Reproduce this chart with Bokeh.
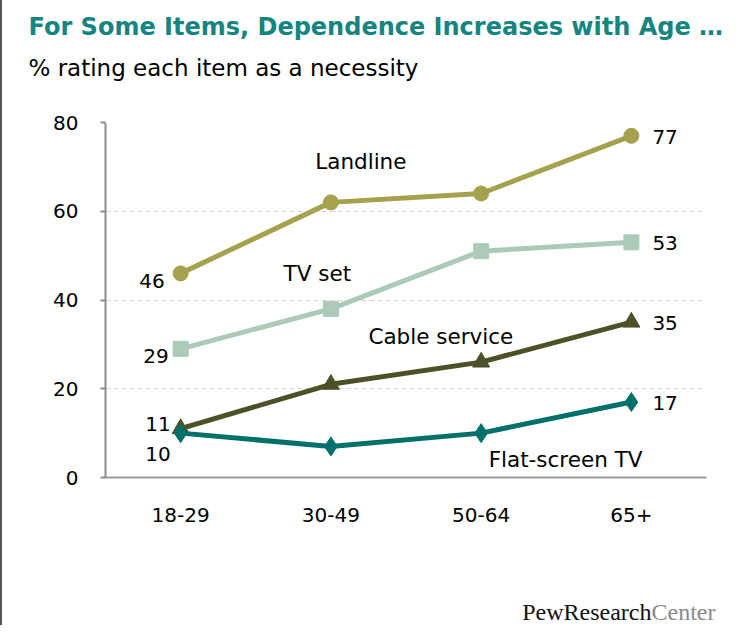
from bokeh.plotting import figure
from bokeh.models import ColumnDataSource, Label, Range1d, FactorRange
from bokeh.layouts import column
from bokeh.core.properties import value
from bokeh.embed import file_html
from bokeh.resources import INLINE

# ---- data ----
ages = ["18-29", "30-49", "50-64", "65+"]
landline = [46, 62, 64, 77]
tv_set = [29, 38, 51, 53]
cable = [11, 21, 26, 35]
flat_screen = [10, 7, 10, 17]
series_names = ["Landline", "TV set", "Cable service", "Flat-screen TV"]
y_ticks = [0, 20, 40, 60, 80]

title_text = "For Some Items, Dependence Increases with Age \u2026"
subtitle_text = "% rating each item as a necessity"
logo_main = "PewResearch"
logo_tail = "Center"

# ---- styles ----
FONT = "DejaVu Sans"
C_LAND = "#a6a14d"
C_TV = "#abcbb8"
C_CABLE = "#4e5128"
C_FLAT = "#00706b"
C_TITLE = "#14857f"
W = 736
H_HEAD = 112
H_MAIN = 425
H_FOOT = 88


def blank_fig(h):
    f = figure(x_range=Range1d(0, W), y_range=Range1d(h, 0), width=W, height=h,
               output_backend="svg", toolbar_location=None,
               min_border=0, x_axis_location=None, y_axis_location=None)
    f.outline_line_color = None
    f.grid.visible = False
    f.frame_align = False
    return f


# ---- header ----
head = blank_fig(H_HEAD)
head.text(x=[26], y=[26], text=[title_text], text_font=value(FONT),
          text_font_size="24px", text_font_style="bold", text_color=C_TITLE,
          text_align="left", text_baseline="alphabetic")
head.text(x=[26], y=[67], text=[subtitle_text], text_font=value(FONT),
          text_font_size="23px", text_color="black",
          text_align="left", text_baseline="alphabetic")

# ---- main chart ----
p = figure(
    x_range=FactorRange(factors=ages, range_padding=0),
    y_range=Range1d(0, 80),
    width=W, height=H_MAIN,
    output_backend="svg", toolbar_location=None,
    min_border_left=103, min_border_right=32,
    min_border_top=10, min_border_bottom=60,
    title=None,
)
p.frame_align = False
p.outline_line_color = None

p.yaxis.ticker = y_ticks
p.yaxis.axis_line_color = "#8c8c8c"
p.yaxis.axis_line_width = 2
p.yaxis.major_tick_line_color = "#8c8c8c"
p.yaxis.major_tick_line_width = 2
p.yaxis.major_tick_out = 5
p.yaxis.major_tick_in = 0
p.yaxis.minor_tick_line_color = None
p.yaxis.major_label_standoff = 22
p.yaxis.major_label_text_font = FONT
p.yaxis.major_label_text_font_size = "20px"
p.yaxis.major_label_text_color = "black"

p.xaxis.axis_line_color = "#9a9a9a"
p.xaxis.axis_line_width = 2
p.xaxis.major_tick_line_color = None
p.xaxis.minor_tick_line_color = None
p.xaxis.major_tick_out = 0
p.xaxis.major_tick_in = 0
p.xaxis.major_label_standoff = 30
p.xaxis.major_label_text_font = FONT
p.xaxis.major_label_text_font_size = "20px"
p.xaxis.major_label_text_color = "black"

p.xgrid.grid_line_color = None
p.ygrid.grid_line_color = "#d4d4d4"
p.ygrid.grid_line_dash = "5 3"
p.ygrid.grid_line_width = 1

series = [
    (landline, C_LAND, "circle", 15),
    (tv_set, C_TV, "square", 15),
    (cable, C_CABLE, "triangle", 17),
    (flat_screen, C_FLAT, "diamond", 19),
]
for vals, col, mk, sz in series:
    src = ColumnDataSource(dict(x=ages, y=vals))
    p.line("x", "y", source=src, line_color=col, line_width=5)
    p.scatter("x", "y", source=src, marker=mk, size=sz, fill_color=col, line_color=col)

left_vals = [landline[0], tv_set[0], cable[0], flat_screen[0]]
right_vals = [landline[-1], tv_set[-1], cable[-1], flat_screen[-1]]
left_src = ColumnDataSource(dict(
    x=[ages[0]] * 4, y=left_vals, t=[str(v) for v in left_vals],
    xo=[-16, -12, -10, -10], yo=[8, 7, -5, 21]))
right_src = ColumnDataSource(dict(
    x=[ages[-1]] * 4, y=right_vals, t=[str(v) for v in right_vals],
    xo=[21, 21, 21, 21], yo=[1, 1, 1, 1]))
p.text("x", "y", text="t", source=left_src, x_offset="xo", y_offset="yo",
       text_align="right", text_baseline="middle", text_font=value(FONT),
       text_font_size="20px", text_color="black")
p.text("x", "y", text="t", source=right_src, x_offset="xo", y_offset="yo",
       text_align="left", text_baseline="middle", text_font=value(FONT),
       text_font_size="20px", text_color="black")

name_pos = [(1.396, 71.1), (1.185, 46.0), (1.75, 31.7), (2.55, 4.0)]
for name, (lx, ly) in zip(series_names, name_pos):
    p.add_layout(Label(x=lx, y=ly, text=name, text_font=FONT,
                       text_font_size="21.5px", text_color="black",
                       text_align="left", text_baseline="alphabetic"))

# ---- footer (logo) ----
foot = blank_fig(H_FOOT)
foot.text(x=[649], y=[74], text=[logo_main], text_font=value("Liberation Serif"),
          text_font_size="24px", text_color="#111111",
          text_align="right", text_baseline="alphabetic")
foot.text(x=[649], y=[74], text=[logo_tail], text_font=value("Liberation Serif"),
          text_font_size="24px", text_color="#8a8a8a",
          text_align="left", text_baseline="alphabetic")

layout = column(head, p, foot, spacing=0,
                styles={"border-left": "2px solid #555555"})

open("out.html", "w").write(file_html(layout, INLINE))
